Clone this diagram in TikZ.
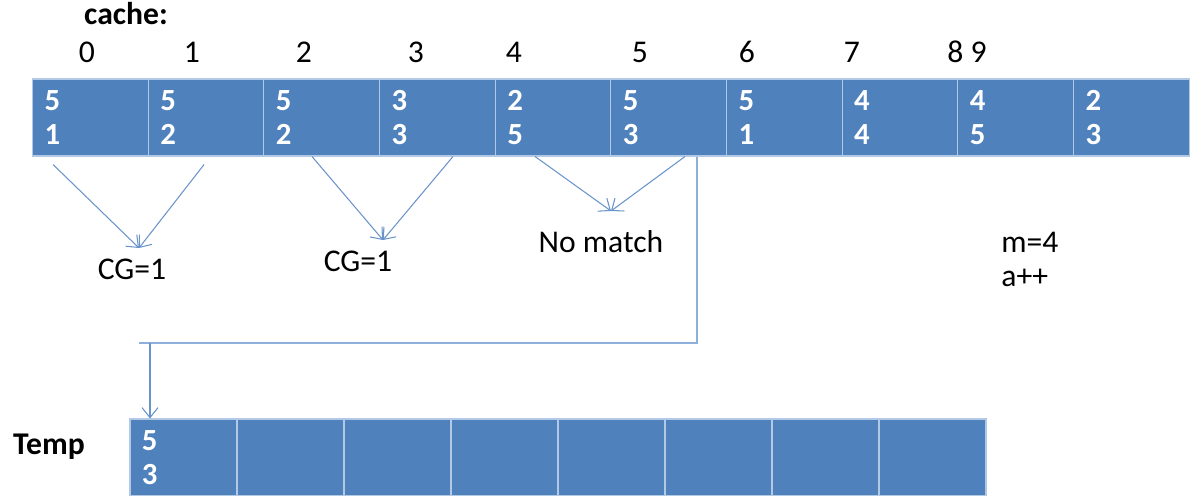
\documentclass[tikz,border=0pt]{standalone}
\usepackage{fontspec}
\setmainfont{Carlito}
\usetikzlibrary{arrows.meta, calc}

\definecolor{cellblue}{RGB}{79,129,189}
\definecolor{celledge}{RGB}{178,200,228}
\definecolor{linkblue}{RGB}{105,148,202}
\definecolor{wireblue}{RGB}{140,175,220}

\begin{document}
\begin{tikzpicture}[x=0.2mm, y=-0.2mm,
    % --- array cells ---
    cell/.style={rectangle, draw=celledge, fill=cellblue, line width=0.6pt,
        minimum width=23.13mm, minimum height=15.4mm, text width=18.3mm,
        inner xsep=2.4mm, align=left, text=white,
        font=\fontsize{17.5}{19.1}\selectfont\bfseries},
    tcell/.style={cell, minimum width=21.4mm, text width=16.6mm},
    % --- texts ---
    lbl/.style={font=\fontsize{18}{21}\selectfont, inner sep=0pt, anchor=base},
    head/.style={lbl, font=\fontsize{18}{21}\selectfont\bfseries},
    % --- connectors ---
    arr/.style={-{Straight Barb[length=2mm, width=3.2mm]}, draw=linkblue, line width=0.6pt},
    wire/.style={draw=wireblue, line width=0.9pt}
]
\useasboundingbox (0,0) rectangle (1193,496);

%%% ================= CACHE =================
\node[head] (cachelbl) at (126,25) {cache:};
\foreach \x/\t [count=\k] in {87/0,192/1,304/2,416/3,514/4,640/5,747/6,852/7,967/8 9}
    \node[lbl] (idx\k) at (\x,63) {\t};

\foreach \a/\b [count=\i from 0] in {5/1,5/2,5/2,3/3,2/5,5/3,5/1,4/4,4/5,2/3}
    \node[cell] (c\i) at ({32.6+115.65*(\i+0.5)},117.5) {\a\\\b};

%%% ================= COMPARISONS =================
\coordinate (tip1) at (139,248);
\coordinate (tip2) at (383,240);
\coordinate (tip3) at (611,211);

\node[lbl] (cg1) at (132,280) {CG=1};
\node[lbl] (cg2) at (358,272) {CG=1};
\node[lbl] (nomatch) at (601,253) {No match};
\node[lbl, anchor=base west] (mval) at (1001,253) {m=4};
\node[lbl, anchor=base west] (ainc) at (1001,287) {a++};

\draw[arr] ($(c0.south)+(-37.4,8)$) -- (tip1);
\draw[arr] ($(c1.south)+(-2,8)$) -- (tip1);
\draw[arr] ($(c2.south)+(-9.7,0)$) -- (tip2);
\draw[arr] ($(c3.south)+(15.6,0)$) -- (tip2);
\draw[arr] ($(c4.south)+(-18,0)$) -- (tip3);
\draw[arr] ($(c5.south)+(16.3,0)$) -- (tip3);

%%% ================= TEMP =================
\node[head] (templbl) at (49,455) {Temp};
\node[tcell] (t0) at (183.5,457.5) {5\\3};
\foreach \i in {1,...,7}
    \node[tcell] (t\i) at ({130+107*(\i+0.5)},457.5) {};

%% copy to temp
\coordinate (bend) at (139,343);
\coordinate (drop) at (150,343);
\draw[wire] ($(c5.south)+(28.3,0)$) |- (bend);
\draw[arr] (drop) -- (drop |- t0.north);

\end{tikzpicture}
\end{document}
